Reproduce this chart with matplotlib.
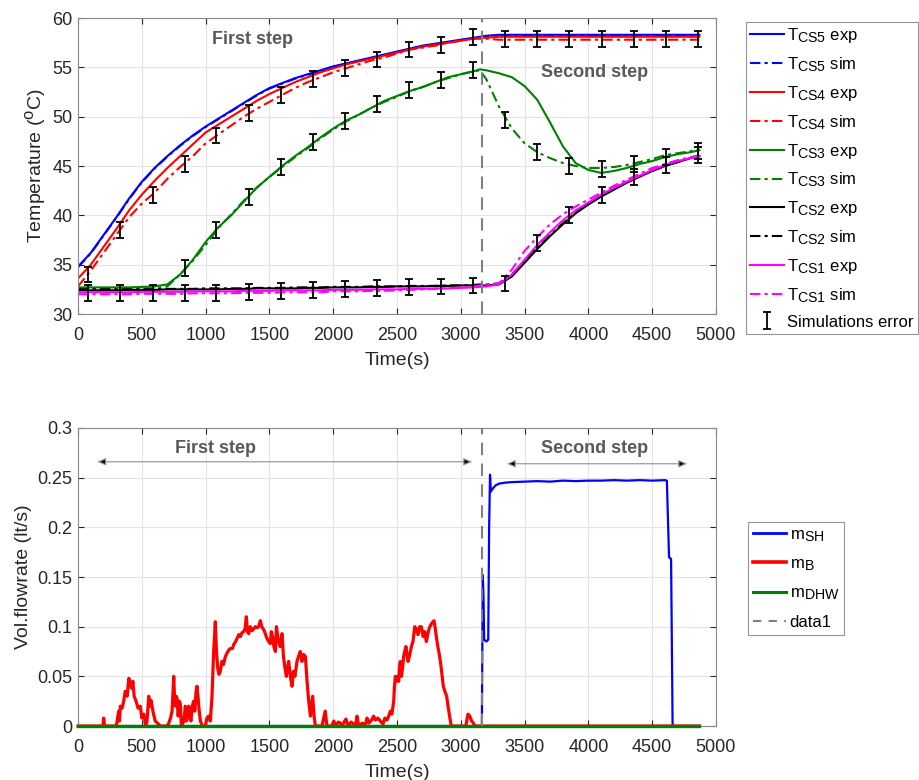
import matplotlib
matplotlib.use("Agg")
import matplotlib.pyplot as plt
import matplotlib._mathtext as _mt

# MATLAB-like larger sub/superscripts
_mt.SHRINK_FACTOR = 0.85

plt.rcParams['font.family'] = ['Liberation Sans', 'DejaVu Sans']
plt.rcParams['mathtext.fontset'] = 'custom'
plt.rcParams['mathtext.rm'] = 'Liberation Sans'
plt.rcParams['mathtext.it'] = 'Liberation Sans:italic'
plt.rcParams['mathtext.bf'] = 'Liberation Sans:bold'

# ---------------- top panel data ----------------
t_top = [0, 100, 200, 300, 400, 500, 600, 700, 800, 900, 1000, 1100, 1200, 1300, 1400,
         1500, 1600, 1700, 1800, 1900, 2000, 2100, 2200, 2300, 2400, 2500, 2600, 2700,
         2800, 2900, 3000, 3100, 3150, 3200, 3300, 3400, 3500, 3600, 3700, 3800, 3900,
         4000, 4100, 4200, 4300, 4400, 4500, 4600, 4700, 4800, 4870]

tcs5_exp = [34.8, 36.2, 38.0, 39.8, 41.7, 43.4, 44.8, 46.0, 47.1, 48.1,
            49.0, 49.8, 50.6, 51.4, 52.2, 52.9, 53.4, 53.9, 54.3, 54.7,
            55.1, 55.4, 55.7, 56.0, 56.3, 56.6, 56.9, 57.2, 57.4, 57.6,
            57.8, 58.0, 58.1,
            58.2, 58.3, 58.3, 58.3, 58.3, 58.3, 58.3, 58.3, 58.3, 58.3, 58.3, 58.3, 58.3,
            58.3, 58.3, 58.3, 58.3, 58.3]
tcs5_sim = [34.75, 36.15, 37.95, 39.75, 41.65, 43.35, 44.75, 45.95, 47.05, 48.05,
            48.95, 49.75, 50.55, 51.35, 52.15, 52.85, 53.35, 53.85, 54.25, 54.65,
            55.05, 55.35, 55.65, 55.95, 56.25, 56.55, 56.85, 57.15, 57.35, 57.55,
            57.75, 57.95, 58.05,
            58.15, 58.25, 58.25, 58.25, 58.25, 58.25, 58.25, 58.25, 58.25, 58.25, 58.25,
            58.25, 58.25, 58.25, 58.25, 58.25, 58.25, 58.25]
tcs4_exp = [33.6, 35.0, 36.8, 38.6, 40.5, 42.1, 43.5, 44.8, 46.0, 47.2,
            48.4, 49.2, 50.0, 50.8, 51.6, 52.3, 52.9, 53.5, 54.0, 54.5,
            54.9, 55.3, 55.6, 55.9, 56.2, 56.5, 56.8, 57.1, 57.3, 57.5,
            57.7, 57.9, 58.0,
            58.0, 58.1, 58.1, 58.1, 58.1, 58.1, 58.1, 58.1, 58.1, 58.1, 58.1, 58.1, 58.1,
            58.1, 58.1, 58.1, 58.1, 58.1]
tcs4_sim = [32.8, 34.4, 36.2, 38.0, 39.8, 41.2, 42.3, 43.7, 44.9, 46.0,
            47.3, 48.2, 49.1, 50.0, 50.8, 51.5, 52.2, 52.9, 53.5, 54.0,
            54.5, 54.9, 55.3, 55.7, 56.0, 56.4, 56.8, 57.0, 57.2, 57.5,
            57.7, 57.9, 57.9,
            57.9, 57.8, 57.8, 57.8, 57.8, 57.8, 57.8, 57.8, 57.8, 57.8, 57.8, 57.8, 57.8,
            57.8, 57.8, 57.8, 57.8, 57.8]
tcs3_exp = [32.7, 32.7, 32.7, 32.7, 32.7, 32.75, 32.8, 33.0, 34.0, 35.5,
            37.3, 38.8, 40.0, 41.4, 42.8, 43.9, 45.0, 46.0, 46.9, 47.9,
            48.8, 49.6, 50.2, 50.9, 51.6, 52.1, 52.6, 53.0, 53.5, 54.0,
            54.3, 54.6, 54.8,
            54.7, 54.4, 54.0, 53.1, 51.7, 49.4, 47.0, 45.3, 44.6, 44.3, 44.5, 44.8, 45.2,
            45.5, 45.9, 46.2, 46.4, 46.6]
tcs3_sim = [32.6, 32.6, 32.6, 32.6, 32.6, 32.6, 32.6, 32.8, 34.0, 35.4,
            37.0, 38.7, 40.1, 41.5, 42.8, 43.9, 44.9, 45.9, 46.8, 47.8,
            48.7, 49.5, 50.2, 50.9, 51.5, 52.0, 52.6, 53.0, 53.5, 53.9,
            54.3, 54.6, 54.7,
            53.8, 51.0, 48.8, 47.3, 46.4, 45.8, 45.3, 45.0, 44.8, 44.8, 44.9, 45.1, 45.4,
            45.7, 46.1, 46.3, 46.5, 46.7]
tcs2_exp = [32.4, 32.4, 32.4, 32.4, 32.45, 32.45, 32.45, 32.5, 32.5, 32.5,
            32.5, 32.5, 32.55, 32.55, 32.6, 32.6, 32.6, 32.6, 32.65, 32.65,
            32.7, 32.7, 32.7, 32.75, 32.75, 32.8, 32.8, 32.8, 32.85, 32.85,
            32.9, 32.9, 32.9,
            32.9, 33.0, 33.8, 35.2, 36.6, 37.9, 39.1, 40.2, 41.1, 41.9, 42.6, 43.3, 43.9,
            44.5, 45.0, 45.4, 45.8, 46.0]
tcs2_sim = [32.5, 32.5, 32.5, 32.5, 32.5, 32.5, 32.5, 32.55, 32.55, 32.55,
            32.6, 32.6, 32.6, 32.6, 32.65, 32.65, 32.65, 32.7, 32.7, 32.7,
            32.75, 32.75, 32.75, 32.8, 32.8, 32.8, 32.85, 32.85, 32.85, 32.9,
            32.9, 32.95, 33.0,
            33.0, 33.1, 34.0, 35.4, 36.7, 38.0, 39.2, 40.3, 41.2, 42.0, 42.7, 43.4, 44.0,
            44.5, 45.0, 45.4, 45.8, 46.0]
tcs1_exp = [32.2, 32.2, 32.2, 32.2, 32.2, 32.25, 32.25, 32.25, 32.25, 32.3,
            32.3, 32.3, 32.3, 32.35, 32.35, 32.35, 32.4, 32.4, 32.4, 32.4,
            32.45, 32.45, 32.45, 32.5, 32.5, 32.5, 32.55, 32.55, 32.6, 32.6,
            32.65, 32.7, 32.75,
            32.8, 33.0, 34.0, 35.5, 37.0, 38.3, 39.5, 40.5, 41.3, 42.1, 42.8, 43.4, 44.0,
            44.6, 45.1, 45.5, 45.8, 46.0]
tcs1_sim = [32.0, 32.0, 32.0, 32.0, 32.0, 32.05, 32.05, 32.05, 32.05, 32.1,
            32.1, 32.1, 32.1, 32.15, 32.15, 32.15, 32.2, 32.2, 32.2, 32.2,
            32.3, 32.3, 32.3, 32.35, 32.35, 32.4, 32.45, 32.5, 32.55, 32.6,
            32.7, 32.8, 32.9,
            33.0, 33.1, 34.5, 36.4, 37.8, 39.1, 40.1, 40.9, 41.6, 42.3, 43.0, 43.6, 44.2,
            44.8, 45.2, 45.6, 45.9, 46.1]

# simulation error bars
err_t = [80, 330, 585, 835, 1085, 1340, 1590, 1840, 2090, 2345, 2595, 2845, 3095,
         3350, 3600, 3850, 4105, 4355, 4605, 4860]
err_top = [34.0, 38.5, 42.1, 45.2, 48.1, 50.4, 52.2, 53.8, 54.9, 55.8, 56.8, 57.3, 58.1,
           57.9, 57.9, 57.9, 57.9, 57.9, 57.9, 57.9]
err_t_mid = [835, 1085, 1340, 1590, 1840, 2090, 2345, 2595, 2845, 3095,
             3350, 3600, 3850, 4105, 4355, 4605, 4860]
err_mid = [34.7, 38.5, 41.9, 44.9, 47.4, 49.6, 51.3, 52.7, 53.7, 54.7,
           49.7, 46.4, 45.0, 44.7, 45.2, 45.9, 46.5]
err_low = [32.1, 32.1, 32.1, 32.1, 32.1, 32.2, 32.3, 32.4, 32.5, 32.6, 32.7, 32.8, 32.9,
           33.1, 37.2, 40.0, 42.1, 43.9, 45.1, 46.1]
err_size = 0.8

step_time = 3170

# ---------------- bottom panel data ----------------
msh_t = [0, 3165, 3172, 3178, 3183, 3200, 3215, 3222, 3229, 3236, 3245, 3270, 3300, 3350,
         3400, 3500, 3600, 3700, 3800, 3900, 4000, 4100, 4200, 4300, 4400, 4500, 4600,
         4615, 4632, 4648, 4660, 4870]
msh = [0, 0, 0.152, 0.13, 0.087, 0.085, 0.087, 0.2, 0.253, 0.236, 0.238, 0.242, 0.244,
       0.245, 0.2455, 0.246, 0.2465, 0.246, 0.247, 0.2465, 0.247, 0.247, 0.2475, 0.247,
       0.2475, 0.247, 0.2475, 0.247, 0.17, 0.168, 0.0, 0.0]

mb_t = [0, 180, 195, 201, 208, 300, 319, 325, 332, 345, 358, 370, 385, 398, 410, 420, 430,
        440, 455, 470, 488, 500, 515, 530, 541, 554, 562, 572, 580, 592, 605, 630, 645,
        700, 711, 725, 737, 745, 750, 756, 763, 770, 776, 785, 795, 802, 810, 830, 841,
        850, 860, 867, 875, 885, 895, 906, 915, 925, 932, 940, 950, 959, 975, 998, 1010,
        1024, 1037, 1050, 1063, 1076, 1085, 1095, 1105, 1115, 1128, 1140, 1155, 1170,
        1185, 1194, 1210, 1220, 1235, 1246, 1260, 1272, 1285, 1298, 1310, 1319, 1328,
        1338, 1350, 1365, 1377, 1390, 1405, 1416, 1429, 1440, 1455, 1468, 1481, 1495,
        1507, 1515, 1525, 1535, 1547, 1555, 1565, 1573, 1585, 1599, 1610, 1620, 1633,
        1642, 1651, 1660, 1670, 1677, 1688, 1700, 1716, 1728, 1742, 1755, 1768, 1782,
        1795, 1808, 1821, 1830, 1839, 1850, 1860, 1912, 1925, 1938, 1950, 1990, 2004,
        2020, 2040, 2056, 2070, 2090, 2100, 2115, 2140, 2160, 2175, 2187, 2200, 2230,
        2250, 2265, 2280, 2300, 2317, 2330, 2350, 2369, 2390, 2405, 2422, 2435, 2448,
        2460, 2474, 2480, 2487, 2495, 2505, 2513, 2520, 2526, 2535, 2545, 2552, 2560,
        2570, 2580, 2587, 2600, 2613, 2625, 2639, 2650, 2665, 2678, 2691, 2705, 2717,
        2730, 2745, 2757, 2770, 2790, 2800, 2808, 2820, 2834, 2845, 2863, 2875, 2889,
        2900, 2912, 2925, 3040, 3050, 3057, 3070, 3085, 3098, 3110, 4870]
mb = [0, 0, 0.0, 0.008, 0.0, 0.0, 0.015, 0.005, 0.02, 0.018, 0.025, 0.035, 0.03, 0.048,
      0.044, 0.038, 0.045, 0.03, 0.025, 0.018, 0.02, 0.008, 0.012, 0.0, 0.005, 0.03, 0.02,
      0.026, 0.02, 0.012, 0.005, 0.002, 0.0,
      0.0, 0.003, 0.008, 0.015, 0.035, 0.05, 0.03, 0.02, 0.03, 0.028, 0.01, 0.025, 0.022,
      0.0, 0.005, 0.02,
      0.005, 0.01, 0.02, 0.01, 0.005, 0.02, 0.025, 0.015, 0.035, 0.04, 0.03, 0.015, 0.005,
      0.0, 0.0, 0.008,
      0.01, 0.005, 0.03, 0.075, 0.105, 0.075, 0.058, 0.052, 0.055, 0.065, 0.062, 0.07,
      0.074,
      0.077, 0.078, 0.078, 0.082, 0.085, 0.088, 0.092, 0.09, 0.094, 0.095, 0.098, 0.11,
      0.095,
      0.093, 0.1, 0.096, 0.098, 0.1, 0.099, 0.1, 0.106, 0.1, 0.097, 0.093, 0.088, 0.085,
      0.083, 0.095, 0.09, 0.08, 0.075, 0.1, 0.09, 0.085, 0.08, 0.093, 0.07, 0.06, 0.05,
      0.058, 0.065, 0.055, 0.045, 0.04, 0.055, 0.05, 0.065, 0.07, 0.075, 0.065, 0.072,
      0.07,
      0.045, 0.025, 0.01, 0.02, 0.03, 0.01, 0.0, 0.0, 0.008, 0.015, 0.0, 0.0, 0.005,
      0.0, 0.004, 0.003, 0.0, 0.005, 0.007, 0.0, 0.004, 0.002, 0.0, 0.01, 0.0, 0.003,
      0.0, 0.008, 0.003, 0.006, 0.01, 0.006, 0.008, 0.005, 0.002, 0.008, 0.006, 0.01,
      0.015,
      0.012, 0.025, 0.04, 0.05, 0.045, 0.05, 0.045, 0.06, 0.065, 0.05, 0.06, 0.07, 0.075,
      0.08, 0.07, 0.065, 0.072, 0.08, 0.085, 0.1, 0.098, 0.092, 0.1, 0.1, 0.09, 0.095,
      0.085, 0.095, 0.1, 0.103, 0.106, 0.098, 0.09, 0.08, 0.07, 0.06, 0.04, 0.035, 0.03,
      0.02, 0.01, 0.0, 0.0, 0.008, 0.012, 0.01, 0.005, 0.003, 0.0, 0.0]

mdhw_t = [0, 4870]
mdhw = [0.0, 0.0]

x_ticks = [0, 500, 1000, 1500, 2000, 2500, 3000, 3500, 4000, 4500, 5000]
top_yticks = [30, 35, 40, 45, 50, 55, 60]
bot_yticks = [0, 0.05, 0.1, 0.15, 0.2, 0.25, 0.3]
bot_ylabels = ['0', '0.05', '0.1', '0.15', '0.2', '0.25', '0.3']

# ---------------- figure ----------------
fig = plt.figure(figsize=(9.19, 7.80), dpi=100)
ax1 = fig.add_axes([0.0849, 0.5974, 0.6942, 0.3795])
ax2 = fig.add_axes([0.0849, 0.0692, 0.6942, 0.3821])

tick_col = '#262626'
spine_col = '#8a8a8a'
dashdot = (0, (5, 2, 1.5, 2))

def style(ax):
    ax.grid(True, color='#e3e3e3', lw=0.8)
    ax.set_axisbelow(True)
    ax.tick_params(direction='in', top=True, right=True, length=4, width=0.8,
                   labelsize=13, colors=tick_col)
    ax.tick_params(axis='x', pad=9)
    ax.tick_params(axis='y', pad=4)
    for s in ax.spines.values():
        s.set_color(spine_col)
        s.set_linewidth(0.8)

lw = 1.5
series = [
    (tcs5_exp, 'blue', '-', r'T$_{\mathrm{CS5}}$ exp', 2.2),
    (tcs5_sim, 'blue', dashdot, r'T$_{\mathrm{CS5}}$ sim', 2.0),
    (tcs4_exp, 'red', '-', r'T$_{\mathrm{CS4}}$ exp', 2.3),
    (tcs4_sim, 'red', dashdot, r'T$_{\mathrm{CS4}}$ sim', 2.3),
    (tcs3_exp, 'green', '-', r'T$_{\mathrm{CS3}}$ exp', 2.3),
    (tcs3_sim, 'green', dashdot, r'T$_{\mathrm{CS3}}$ sim', 2.3),
    (tcs2_exp, 'black', '-', r'T$_{\mathrm{CS2}}$ exp', 2.3),
    (tcs2_sim, 'black', dashdot, r'T$_{\mathrm{CS2}}$ sim', 2.3),
    (tcs1_exp, 'magenta', '-', r'T$_{\mathrm{CS1}}$ exp', 2.3),
    (tcs1_sim, 'magenta', dashdot, r'T$_{\mathrm{CS1}}$ sim', 2.3),
]
col_map = {'green': '#008000'}
handles1 = []
for y, c, ls, lab, z in series:
    h, = ax1.plot(t_top, y, color=col_map.get(c, c), ls=ls, lw=lw, label=lab, zorder=z)
    handles1.append(h)

ax1.axvline(step_time, color='#808080', ls=(0, (6, 4)), lw=1.5, zorder=2.5)

eb_kw = dict(fmt='none', ecolor='black', elinewidth=1.3, capsize=2.6, capthick=1.3,
             zorder=3)
eb = ax1.errorbar(err_t, err_top, yerr=err_size, **eb_kw)
ax1.errorbar(err_t_mid, err_mid, yerr=err_size, **eb_kw)
ax1.errorbar(err_t, err_low, yerr=err_size, **eb_kw)

ax1.set_xlim(0, 5000)
ax1.set_ylim(30, 60)
ax1.set_xticks(x_ticks)
ax1.set_yticks(top_yticks)
style(ax1)
ax1.set_xlabel('Time(s)', fontsize=14, color=tick_col, labelpad=6)
ax1.set_ylabel(r'Temperature ($^{\mathrm{o}}$C)', fontsize=14, color=tick_col, labelpad=3)
ax1.text(1370, 57.8, 'First step', fontsize=13, fontweight='bold', color='#595959',
         ha='center', va='center')
ax1.text(4050, 54.5, 'Second step', fontsize=13, fontweight='bold', color='#595959',
         ha='center', va='center')

leg1 = fig.legend(handles1 + [eb], [h.get_label() for h in handles1] + ['Simulations error'],
                  loc='upper left', bbox_to_anchor=(0.8118, 0.9718), fontsize=12,
                  frameon=True, fancybox=False, edgecolor='#7a7a7a', handlelength=2.0,
                  handletextpad=0.2, labelspacing=0.6, borderpad=0.25, borderaxespad=0)
leg1.get_frame().set_linewidth(0.8)

# bottom panel
h_sh, = ax2.plot(msh_t, msh, color='blue', lw=1.6, zorder=2.1)
h_b, = ax2.plot(mb_t, mb, color='red', lw=2.3, zorder=2.2, clip_on=False)
h_dhw, = ax2.plot(mdhw_t, mdhw, color='#008000', lw=2.4, zorder=3.0, clip_on=False)
h_d = ax2.axvline(step_time, color='#808080', ls=(0, (6, 4)), lw=1.5, zorder=3.1)

ax2.set_xlim(0, 5000)
ax2.set_ylim(0, 0.3)
ax2.set_xticks(x_ticks)
ax2.set_yticks(bot_yticks)
ax2.set_yticklabels(bot_ylabels)
style(ax2)
ax2.set_xlabel('Time(s)', fontsize=14, color=tick_col, labelpad=6)
ax2.set_ylabel('Vol.flowrate (lt/s)', fontsize=14, color=tick_col, labelpad=4)

ax2.text(1075, 0.279, 'First step', fontsize=13, fontweight='bold', color='#595959',
         ha='center', va='center')
ax2.text(4050, 0.279, 'Second step', fontsize=13, fontweight='bold', color='#595959',
         ha='center', va='center')
arrow_kw = dict(arrowstyle='<|-|>,head_length=0.5,head_width=0.22', fc='black',
                ec='#9a9a9a', lw=0.9, shrinkA=0, shrinkB=0)
ax2.annotate('', xy=(150, 0.266), xytext=(3090, 0.266), arrowprops=arrow_kw)
ax2.annotate('', xy=(3360, 0.264), xytext=(4775, 0.264), arrowprops=arrow_kw)

leg_h2 = [plt.Line2D([], [], color='blue', lw=2.0),
          plt.Line2D([], [], color='red', lw=2.6),
          plt.Line2D([], [], color='#008000', lw=2.2),
          plt.Line2D([], [], color='#808080', ls=(0, (4, 3.5)), lw=1.5)]
leg2 = fig.legend(leg_h2, [r'm$_{\mathrm{SH}}$', r'm$_{\mathrm{B}}$',
                           r'm$_{\mathrm{DHW}}$', 'data1'],
                  loc='upper left', bbox_to_anchor=(0.814, 0.3308), fontsize=12,
                  frameon=True, fancybox=False, edgecolor='#7a7a7a', handlelength=2.0,
                  handletextpad=0.2, labelspacing=0.75, borderpad=0.3, borderaxespad=0)
leg2.get_frame().set_linewidth(0.8)

fig.savefig('out.png', dpi=100, facecolor='white')
